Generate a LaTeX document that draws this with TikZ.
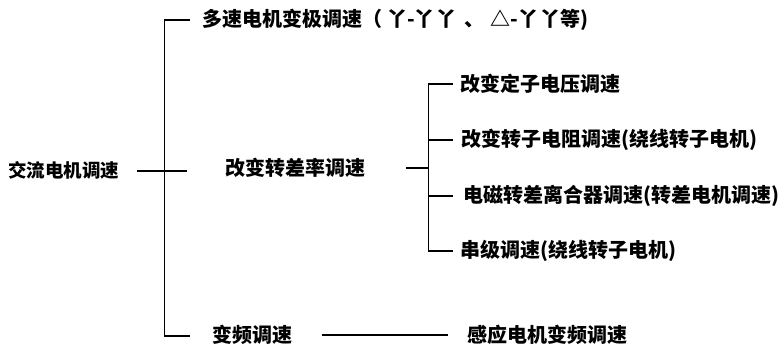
\documentclass[tikz,border=0pt]{standalone}
\usepackage{fontspec}
\newfontfamily\cjk{Noto Sans CJK SC}
\begin{document}
\begin{tikzpicture}[x=1pt,y=-1pt,
  lbl/.style={anchor=west,inner sep=0pt,font=\cjk\bfseries\fontsize{20}{24}\selectfont},
  ln/.style={line width=1.2pt,black}]
\useasboundingbox (0,0) rectangle (784,346);
% texts
\node[lbl,font=\cjk\bfseries\fontsize{18.5}{22}\selectfont] (root) at (8,170) {交流电机调速};
\node[lbl] (top) at (202,20) {多速电机变极调速（\hspace{5pt}丫-丫\hspace{2pt}丫\hspace{8pt}、\hspace{6pt}△-丫\hspace{2pt}丫等)};
\node[lbl] (mid) at (225,168) {改变转差率调速};
\node[lbl] (s1) at (460,84) {改变定子电压调速};
\node[lbl] (s2) at (461,140) {改变转子电阻调速(绕线转子电机)};
\node[lbl] (s3) at (463,196) {电磁转差离合器调速(转差电机调速)};
\node[lbl] (s4) at (460,251) {串级调速(绕线转子电机)};
\node[lbl] (vf) at (212,335) {变频调速};
\node[lbl] (im) at (467,335) {感应电机变频调速};
% coordinates
\coordinate (mT) at (164.5,20);
\coordinate (mB) at (164.5,336);
\coordinate (tE) at (190,20);
\coordinate (bE) at (190,336);
\coordinate (rL) at (137,171);
\coordinate (rR) at (187,171);
\coordinate (cL) at (406,168);
\coordinate (cM) at (428.5,168);
\coordinate (sT) at (428.5,84);
\coordinate (sB) at (428.5,251);
\coordinate (b2) at (428.5,140);
\coordinate (b3) at (428.5,196);
\coordinate (e1) at (452.5,84);
\coordinate (e2) at (452.5,140);
\coordinate (e3) at (452.5,196);
\coordinate (e4) at (452.5,251);
\coordinate (lL) at (322,335);
\coordinate (lR) at (448,335);
% lines
\draw[ln] (tE) -- (mT) -- (mB) -- (bE);
\draw[ln] (rL) -- (rR);
\draw[ln] (cL) -- (cM);
\draw[ln] (e1) -- (sT) -- (sB) -- (e4);
\draw[ln] (b2) -- (e2);
\draw[ln] (b3) -- (e3);
\draw[ln] (lL) -- (lR);
\end{tikzpicture}
\end{document}
